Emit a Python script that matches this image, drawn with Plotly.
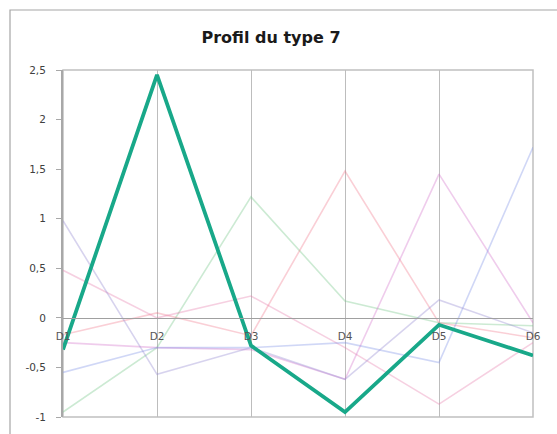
import plotly.graph_objects as go

categories = ["D1", "D2", "D3", "D4", "D5", "D6"]

# highlighted profile (type 7)
type7 = [-0.32, 2.45, -0.28, -0.95, -0.07, -0.38]

# faint profiles of the other types
type_green = [-0.95, -0.30, 1.22, 0.17, -0.05, -0.08]
type_red = [-0.17, 0.05, -0.18, 1.48, -0.05, -0.20]
type_pink = [0.48, 0.00, 0.22, -0.30, -0.87, -0.25]
type_magenta = [-0.25, -0.30, -0.32, -0.62, 1.45, -0.05]
type_blue = [-0.55, -0.30, -0.30, -0.25, -0.45, 1.72]
type_lavender = [0.98, -0.57, -0.30, -0.62, 0.18, -0.15]

ytick_vals = [-1, -0.5, 0, 0.5, 1, 1.5, 2, 2.5]
ytick_text = ["-1", "-0,5", "0", "0,5", "1", "1,5", "2", "2,5"]

title_text = "Profil du type 7"

faint = [
    (type_green, "rgba(120,200,140,0.38)"),
    (type_red, "rgba(240,110,130,0.33)"),
    (type_pink, "rgba(230,120,170,0.35)"),
    (type_magenta, "rgba(210,110,200,0.35)"),
    (type_blue, "rgba(120,140,230,0.35)"),
    (type_lavender, "rgba(150,140,210,0.38)"),
]

fig = go.Figure()
for vals, col in faint:
    fig.add_trace(go.Scatter(x=categories, y=vals, mode="lines",
                             line=dict(color=col, width=1.6),
                             cliponaxis=False, showlegend=False, hoverinfo="skip"))

fig.add_trace(go.Scatter(x=categories, y=type7, mode="lines",
                         line=dict(color="#18a889", width=3.8),
                         cliponaxis=False, showlegend=False))

W, H = 557, 434
L, R, T, B = 63, 24, 70, 17
pw, ph = W - L - R, H - T - B

def px_to_paper_x(px):
    return (px - L) / pw

def px_to_paper_y(py):
    return (H - B - py) / ph

# chart-area border
fig.add_shape(type="rect", xref="paper", yref="paper",
              x0=px_to_paper_x(10), x1=px_to_paper_x(600),
              y0=px_to_paper_y(480), y1=px_to_paper_y(10),
              line=dict(color="#a6a6a6", width=1.2), fillcolor="rgba(0,0,0,0)",
              layer="below")
# plot-area border
fig.add_shape(type="rect", xref="paper", yref="paper", x0=0, x1=1, y0=0, y1=1,
              line=dict(color="#c0c0c0", width=1.5), fillcolor="rgba(0,0,0,0)",
              layer="below")

fig.update_layout(
    width=W, height=H,
    margin=dict(l=L, r=R, t=T, b=B, pad=0),
    paper_bgcolor="white", plot_bgcolor="white",
    separators=", ",
    title=dict(text="<b>" + title_text + "</b>", x=271 / W, xanchor="center",
               y=1 - 37 / H, yanchor="middle",
               font=dict(family="DejaVu Sans", size=16, color="#1a1a1a")),
    xaxis=dict(type="category", range=[0, 5], anchor="free",
               position=1 / 3.5,
               showgrid=True, gridcolor="#bdbdbd", gridwidth=1.3,
               showline=True, linecolor="#a0a0a0", linewidth=1.3,
               ticks="", ticklabelstandoff=8,
               tickfont=dict(family="DejaVu Sans", size=10.5, color="#555555"),
               zeroline=False, fixedrange=True),
    yaxis=dict(range=[-1, 2.5], tickvals=ytick_vals, ticktext=ytick_text,
               showgrid=False, zeroline=False,
               showline=True, linecolor="#a8a8a8", linewidth=2,
               ticks="outside", ticklen=5, tickcolor="#a8a8a8", tickwidth=1,
               ticklabelstandoff=8,
               tickfont=dict(family="DejaVu Sans", size=10.5, color="#404040"),
               fixedrange=True),
)

fig.write_html("out.html", config={"displayModeBar": False},
               post_script="document.body.style.margin='0';")
